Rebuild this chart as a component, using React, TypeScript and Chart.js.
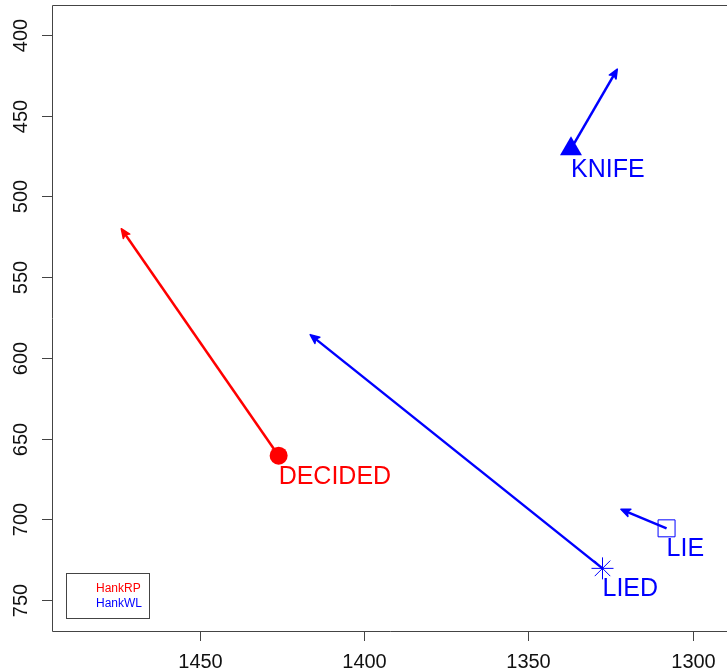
import React, { useEffect, useRef } from "react";
import { Chart, registerables } from "chart.js";

Chart.register(...registerables);

const words = ["DECIDED", "KNIFE", "LIED", "LIE"];
const speakers = ["HankRP", "HankWL", "HankWL", "HankWL"];
const startX = [1426.0, 1337.0, 1327.4, 1307.9];
const startY = [660.6, 470.6, 730.4, 705.6];
const endX = [1473.9, 1322.9, 1416.4, 1321.8];
const endY = [520.0, 421.1, 585.6, 693.8];
const pointStyles = ["circle", "triangle", "star", "rect"];
const legendLabels = ["HankRP", "HankWL"];
const legendColors = ["#ff0000", "#0000ff"];
const xTicks = [1450, 1400, 1350, 1300];
const yTicks = [400, 450, 500, 550, 600, 650, 700, 750];

const FONT = '"Liberation Sans", Arial, Helvetica, sans-serif';

const colorOf = (s: string) => (s === "HankRP" ? "#ff0000" : "#0000ff");

const overlay = {
  id: "overlay",
  beforeDatasetsDraw(chart: any) {
    const ctx = chart.ctx;
    const xs = chart.scales.x;
    const ys = chart.scales.y;
    ctx.save();
    for (let i = 0; i < words.length; i++) {
      const x0 = xs.getPixelForValue(startX[i]);
      const y0 = ys.getPixelForValue(startY[i]);
      const x1 = xs.getPixelForValue(endX[i]);
      const y1 = ys.getPixelForValue(endY[i]);
      const c = colorOf(speakers[i]);
      ctx.strokeStyle = c;
      ctx.fillStyle = c;
      ctx.lineWidth = 2.5;
      ctx.lineCap = "butt";
      ctx.lineJoin = "round";
      const ang = Math.atan2(y1 - y0, x1 - x0);
      const L = 10;
      const a = 0.4;
      ctx.beginPath();
      ctx.moveTo(x0, y0);
      ctx.lineTo(x1 - 4 * Math.cos(ang), y1 - 4 * Math.sin(ang));
      ctx.stroke();
      ctx.lineWidth = 1.5;
      ctx.beginPath();
      ctx.moveTo(x1, y1);
      ctx.lineTo(x1 - L * Math.cos(ang - a), y1 - L * Math.sin(ang - a));
      ctx.lineTo(x1 - 0.7 * L * Math.cos(ang), y1 - 0.7 * L * Math.sin(ang));
      ctx.lineTo(x1 - L * Math.cos(ang + a), y1 - L * Math.sin(ang + a));
      ctx.closePath();
      ctx.fill();
      ctx.stroke();
    }
    ctx.restore();
  },
  afterDatasetsDraw(chart: any) {
    const ctx = chart.ctx;
    const xs = chart.scales.x;
    const ys = chart.scales.y;
    const area = chart.chartArea;
    ctx.save();
    // word labels
    ctx.font = `25px ${FONT}`;
    ctx.textAlign = "left";
    ctx.textBaseline = "middle";
    for (let i = 0; i < words.length; i++) {
      const x0 = xs.getPixelForValue(startX[i]);
      const y0 = ys.getPixelForValue(startY[i]);
      ctx.fillStyle = colorOf(speakers[i]);
      ctx.fillText(words[i], x0, y0 + 21);
    }
    // box
    ctx.strokeStyle = "#444";
    ctx.lineWidth = 1;
    ctx.beginPath();
    ctx.moveTo(area.right + 5, Math.round(area.top) + 0.5);
    ctx.lineTo(Math.round(area.left) + 0.5, Math.round(area.top) + 0.5);
    ctx.lineTo(Math.round(area.left) + 0.5, Math.round(area.bottom) + 0.5);
    ctx.lineTo(area.right + 5, Math.round(area.bottom) + 0.5);
    ctx.stroke();
    // x ticks
    ctx.fillStyle = "#111";
    ctx.font = `20px ${FONT}`;
    ctx.textAlign = "center";
    ctx.textBaseline = "middle";
    for (const t of xTicks) {
      const px = Math.round(xs.getPixelForValue(t)) + 0.5;
      ctx.beginPath();
      ctx.moveTo(px, area.bottom);
      ctx.lineTo(px, area.bottom + 10);
      ctx.stroke();
      ctx.fillText(String(t), px, area.bottom + 31);
    }
    // y ticks
    for (const t of yTicks) {
      const py = Math.round(ys.getPixelForValue(t)) + 0.5;
      ctx.beginPath();
      ctx.moveTo(area.left, py);
      ctx.lineTo(area.left - 10, py);
      ctx.stroke();
      ctx.save();
      ctx.translate(area.left - 31, py);
      ctx.rotate(-Math.PI / 2);
      ctx.fillText(String(t), 0, 0);
      ctx.restore();
    }
    // legend
    ctx.strokeStyle = "#444";
    ctx.strokeRect(66.5, 573.5, 83, 45);
    ctx.font = `12px ${FONT}`;
    ctx.textAlign = "left";
    for (let i = 0; i < legendLabels.length; i++) {
      ctx.fillStyle = legendColors[i];
      ctx.fillText(legendLabels[i], 96, 589 + i * 15);
    }
    ctx.restore();
  },
};

export default function App() {
  const ref = useRef<HTMLCanvasElement | null>(null);
  useEffect(() => {
    if (!ref.current) return;
    const datasets = words.map((w, i) => {
      const c = colorOf(speakers[i]);
      const style = pointStyles[i];
      const radius =
        style === "circle" ? 9 : style === "triangle" ? 12.7 : style === "star" ? 11 : 12;
      const filled = style === "circle" || style === "triangle";
      return {
        label: w,
        data: [{ x: startX[i], y: startY[i] }],
        pointStyle: style,
        pointRadius: radius,
        pointHoverRadius: radius,
        pointBackgroundColor: filled ? c : "rgba(0,0,0,0)",
        pointBorderColor: c,
        pointBorderWidth: filled ? 0 : 1,
        showLine: false,
      };
    });
    const chart = new Chart(ref.current, {
      type: "scatter",
      data: { datasets },
      options: {
        animation: false,
        responsive: false,
        devicePixelRatio: 1,
        layout: { autoPadding: false, padding: { left: 0, right: 0, top: 5, bottom: 0 } },
        plugins: { legend: { display: false }, tooltip: { enabled: false } },
        events: [],
        scales: {
          x: {
            type: "linear",
            reverse: true,
            min: 1289.5,
            max: 1495,
            grid: { display: false },
            border: { display: false },
            ticks: { display: false },
            afterFit: (s: any) => {
              s.height = 39;
            },
          },
          y: {
            type: "linear",
            reverse: true,
            min: 381.4,
            max: 769.2,
            grid: { display: false },
            border: { display: false },
            ticks: { display: false },
            afterFit: (s: any) => {
              s.width = 52;
            },
          },
        },
      } as any,
      plugins: [overlay],
    });
    return () => chart.destroy();
  }, []);
  return (
    <div style={{ position: "fixed", left: 0, top: 0, width: 727, height: 670, background: "#fff" }}>
      <canvas ref={ref} width={727} height={670} style={{ display: "block" }} />
    </div>
  );
}
